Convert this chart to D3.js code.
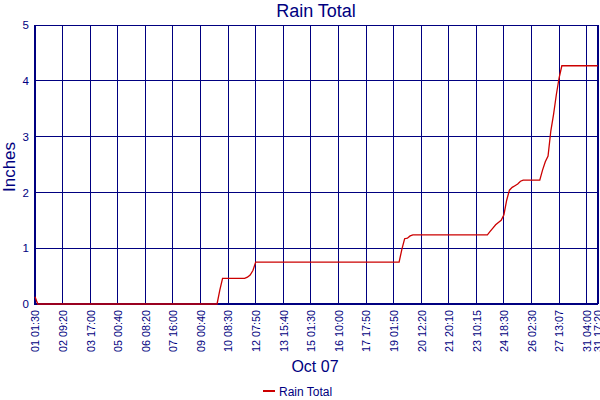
<!DOCTYPE html>
<html>
<head>
<meta charset="utf-8">
<script src="https://cdn.jsdelivr.net/npm/d3@7"></script>
<style>
  body { margin: 0; background: #fff; }
  text { font-family: "Liberation Sans", Arial, sans-serif; fill: #000080; }
</style>
</head>
<body>
<script>
// x positions are sample numbers (logger readings), labels every 10 readings
var tickIndex = [0, 10, 20, 30, 40, 50, 60, 70, 80, 90, 100, 110, 120, 130, 140, 150, 160, 170, 180, 190, 200, 204];
var tickLabels = ["01 01:30", "02 09:20", "03 17:00", "05 00:40", "06 08:20", "07 16:00", "09 00:40",
    "10 08:30", "12 07:50", "13 15:40", "15 01:30", "16 10:00", "17 17:50", "19 01:50", "20 12:20",
    "21 20:10", "23 10:15", "24 18:30", "26 02:30", "27 13:07", "31 04:00", "31 17:20"];
var yTicks = [0, 1, 2, 3, 4, 5];

var sampleIndex = [0, 1, 66, 67, 68, 76, 77, 78, 79, 80,
    132, 133, 134, 135, 136, 137,
    164, 165, 166, 167, 168, 169, 170, 171, 172, 173, 174, 175, 176, 177,
    183, 184, 185, 186, 187, 188, 189, 190, 191, 204];
var rainTotal = [0.13, 0, 0, 0.25, 0.46, 0.46, 0.48, 0.52, 0.6, 0.75,
    0.75, 0.98, 1.17, 1.18, 1.22, 1.24,
    1.24, 1.3, 1.36, 1.42, 1.46, 1.5, 1.6, 1.86, 2.04, 2.09, 2.12, 2.15, 2.2, 2.22,
    2.22, 2.4, 2.55, 2.65, 3.1, 3.4, 3.75, 4.05, 4.27, 4.27];

var w = 600, h = 400;
var padLeft = 35, padRight = 597.7, padTop = 25, padBottom = 304;
var navy = "#000080";

var svg = d3.select("body").append("svg").attr("width", w).attr("height", h);

var x = d3.scaleLinear().domain([0, 204]).range([padLeft, padRight]);
var y = d3.scaleLinear().domain([0, 5]).range([padBottom, padTop]);

// gridlines
svg.append("g").attr("shape-rendering", "crispEdges").selectAll("line")
    .data(tickIndex)
    .enter().append("line")
    .attr("x1", d => x(d)).attr("x2", d => x(d))
    .attr("y1", padTop).attr("y2", padBottom)
    .attr("stroke", navy).attr("stroke-width", 1);
svg.append("g").attr("shape-rendering", "crispEdges").selectAll("line")
    .data(yTicks)
    .enter().append("line")
    .attr("x1", padLeft).attr("x2", padRight)
    .attr("y1", d => y(d)).attr("y2", d => y(d))
    .attr("stroke", navy).attr("stroke-width", 1);

// x axis labels
var xAxis = d3.axisBottom(x).tickValues(tickIndex)
    .tickFormat((d, i) => tickLabels[i]).tickSize(0);
svg.append("g")
    .attr("transform", "translate(0," + padBottom + ")")
    .call(xAxis)
    .call(g => g.select(".domain").remove())
    .selectAll("text")
    .style("font-size", "10.8px")
    .style("font-family", "'Liberation Sans', Arial, sans-serif")
    .style("fill", navy)
    .attr("text-anchor", "end")
    .attr("transform", "rotate(-90)")
    .attr("x", -6).attr("y", 0).attr("dy", "0.36em");

// y axis labels
var yAxis = d3.axisLeft(y).tickValues(yTicks).tickFormat(d3.format("d")).tickSize(0);
svg.append("g")
    .attr("transform", "translate(" + padLeft + ",0)")
    .call(yAxis)
    .call(g => g.select(".domain").remove())
    .selectAll("text")
    .style("font-size", "11.5px")
    .style("font-family", "'Liberation Sans', Arial, sans-serif")
    .style("fill", navy)
    .attr("x", -6);

// frame: heavier left/bottom/right edges
var frame = svg.append("g").attr("shape-rendering", "crispEdges");
frame.append("line").attr("x1", padLeft).attr("x2", padLeft).attr("y1", padTop).attr("y2", padBottom + 1)
    .attr("stroke", navy).attr("stroke-width", 2);
frame.append("line").attr("x1", padLeft).attr("x2", padRight).attr("y1", padBottom).attr("y2", padBottom)
    .attr("stroke", navy).attr("stroke-width", 2);
frame.append("line").attr("x1", padRight).attr("x2", padRight).attr("y1", padTop).attr("y2", padBottom)
    .attr("stroke", navy).attr("stroke-width", 2);

// rain line
var line = d3.line()
    .x((d, i) => x(sampleIndex[i]))
    .y(d => y(d));
svg.append("path")
    .datum(rainTotal)
    .attr("fill", "none")
    .attr("stroke", "#cc0000")
    .attr("stroke-width", 1.3)
    .attr("d", line);

// titles
svg.append("text").attr("x", 316).attr("y", 17).attr("text-anchor", "middle")
    .style("font-size", "18px").text("Rain Total");
svg.append("text").attr("x", 315).attr("y", 372).attr("text-anchor", "middle")
    .style("font-size", "16px").text("Oct 07");
svg.append("text").attr("transform", "translate(15,167) rotate(-90)").attr("text-anchor", "middle")
    .style("font-size", "17px").text("Inches");

// legend
var legend = svg.append("g").attr("transform", "translate(263,391)");
legend.append("line").attr("x1", 0).attr("x2", 12).attr("y1", 0).attr("y2", 0)
    .attr("stroke", "#cc0000").attr("stroke-width", 2);
legend.append("text").attr("x", 16).attr("y", 4.5).style("font-size", "12px").text("Rain Total");
</script>
</body>
</html>
